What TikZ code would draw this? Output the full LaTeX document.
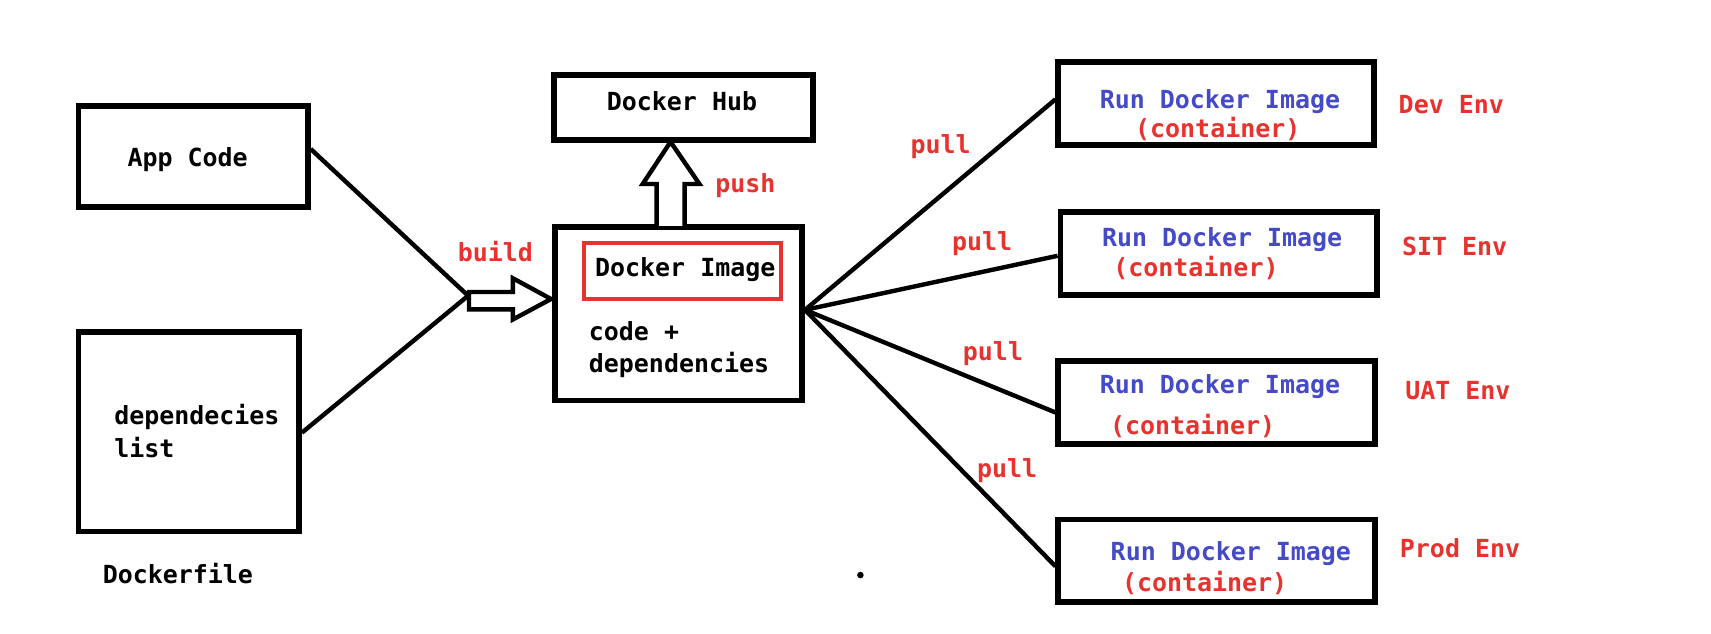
\documentclass[tikz,border=0pt]{standalone}
\usepackage{fontspec}
\setmonofont{DejaVu Sans Mono}
\definecolor{lblred}{RGB}{232,50,45}
\definecolor{lblblue}{RGB}{68,74,200}
\begin{document}
\begin{tikzpicture}[x=0.01cm,y=-0.01cm,
  box/.style={draw=black,line width=1.5pt,rectangle,inner sep=0pt},
  redbox/.style={draw=lblred,line width=1.1pt,rectangle,inner sep=0pt},
  conn/.style={draw=black,line width=1.15pt},
  blockarrow/.style={draw=black,line width=1.15pt,fill=white,line join=miter},
  txt/.style={inner sep=0pt,anchor=base,font=\ttfamily\bfseries\fontsize{6.5}{8}\selectfont},
  ltxt/.style={txt,anchor=base west},
  redtxt/.style={txt,text=lblred},
  bluetxt/.style={txt,text=lblblue}]
\useasboundingbox (0,0) rectangle (1568,581);

% boxes
\node[box,minimum width=2.10cm,minimum height=0.93cm] (app) at (177,143.5) {};
\node[box,minimum width=2.02cm,minimum height=1.83cm] (dep) at (173,395.5) {};
\node[box,minimum width=2.37cm,minimum height=0.59cm] (hub) at (626.5,98.5) {};
\node[box,minimum width=2.26cm,minimum height=1.59cm] (img) at (622,287.5) {};
\node[redbox,minimum width=1.81cm,minimum height=0.51cm] (imgtag) at (625.5,248.5) {};
\node[box,minimum width=2.89cm,minimum height=0.76cm] (r1) at (1114.5,95) {};
\node[box,minimum width=2.90cm,minimum height=0.76cm] (r2) at (1117,232) {};
\node[box,minimum width=2.90cm,minimum height=0.76cm] (r3) at (1115,369) {};
\node[box,minimum width=2.90cm,minimum height=0.76cm] (r4) at (1115,514) {};

% texts
\node[txt] (tapp) at (172,153) {App Code};
\node[ltxt] (tdep1) at (104,389) {dependecies};
\node[ltxt] (tdep2) at (104,419) {list};
\node[txt] (tdf) at (163,535) {Dockerfile};
\node[txt] (thub) at (625,101) {Docker Hub};
\node[txt] (timg) at (628,253) {Docker Image};
\node[ltxt] (tcode) at (539,312) {code +};
\node[ltxt] (tdeps) at (539,341) {dependencies};
\node[redtxt] (tbuild) at (454,240) {build};
\node[redtxt] (tpush) at (683,176) {push};

\node[bluetxt] (r1a) at (1118,99) {Run Docker Image};
\node[redtxt] (r1b) at (1116,126) {(container)};
\node[bluetxt] (r2a) at (1120,226) {Run Docker Image};
\node[redtxt] (r2b) at (1096,253) {(container)};
\node[bluetxt] (r3a) at (1118,361) {Run Docker Image};
\node[redtxt] (r3b) at (1093,398) {(container)};
\node[bluetxt] (r4a) at (1128,514) {Run Docker Image};
\node[redtxt] (r4b) at (1104,542) {(container)};

\node[redtxt] (e1) at (1330,104) {Dev Env};
\node[redtxt] (e2) at (1333,234) {SIT Env};
\node[redtxt] (e3) at (1336,366) {UAT Env};
\node[redtxt] (e4) at (1338,511) {Prod Env};

\node[redtxt] (p1) at (862,141) {pull};
\node[redtxt] (p2) at (900,230) {pull};
\node[redtxt] (p3) at (910,330) {pull};
\node[redtxt] (p4) at (923,438) {pull};

\node[circle,fill=black,inner sep=0pt,minimum size=0.06cm] (dot) at (788.5,527) {};

% connectors
\coordinate (join) at (429,271);
\draw[conn] ([yshift=0.07cm]app.east) -- (join);
\draw[conn] ([yshift=-0.01cm]dep.east) -- (join);

\coordinate (fan) at ([yshift=0.035cm]img.east);
\draw[conn] (fan) -- ([yshift=0.04cm]r1.west);
\draw[conn] (fan) -- ([yshift=-0.024cm]r2.west);
\draw[conn] (fan) -- ([yshift=-0.09cm]r3.west);
\draw[conn] (fan) -- ([yshift=-0.05cm]r4.west);

% build arrow
\draw[blockarrow] (429.8,267.6) -- (470,267.6) -- (470,255) -- (505,274)
  -- (470,292.8) -- (470,283.5) -- (429.8,283.5) -- cycle;
% push arrow
\draw[blockarrow] (601.7,207) -- (601.7,168.6) -- (589,168.6) -- (614.5,130)
  -- (641,168.6) -- (627.4,168.6) -- (627.4,207);
\end{tikzpicture}
\end{document}
